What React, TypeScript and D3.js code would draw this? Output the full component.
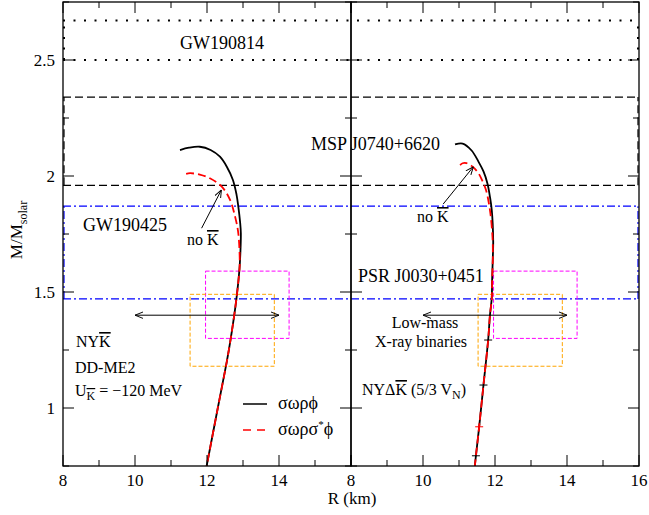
import React from "react";
import * as d3 from "d3";

// ---- data ----
const leftBlackR = [11.25, 11.5, 11.8, 12.1, 12.36, 12.55, 12.72, 12.82, 12.87, 12.92, 12.94, 12.93, 12.9, 12.82, 12.66, 12.55, 12.3, 11.99];
const leftBlackM = [2.112, 2.122, 2.126, 2.112, 2.083, 2.04, 1.983, 1.92, 1.868, 1.8, 1.754, 1.68, 1.595, 1.474, 1.3, 1.2, 1.0, 0.75];
const leftRedR = [11.42, 11.53, 11.8, 12.08, 12.41, 12.64, 12.78, 12.87, 12.91, 12.9, 12.82, 12.66, 12.55, 12.3, 11.99];
const leftRedM = [2.009, 2.012, 2.006, 1.99, 1.954, 1.897, 1.825, 1.753, 1.623, 1.595, 1.474, 1.3, 1.2, 1.0, 0.75];
const rightBlackR = [10.89, 11.1, 11.35, 11.54, 11.68, 11.79, 11.86, 11.91, 11.95, 11.94, 11.92, 11.91, 11.86, 11.81, 11.68, 11.56, 11.47, 11.44];
const rightBlackM = [2.136, 2.14, 2.11, 2.062, 2.02, 1.968, 1.91, 1.853, 1.72, 1.65, 1.55, 1.474, 1.4, 1.293, 1.099, 0.919, 0.794, 0.75];
const rightRedR = [11.03, 11.1, 11.21, 11.38, 11.54, 11.66, 11.75, 11.86, 11.93, 11.94, 11.92, 11.91, 11.86, 11.81, 11.68, 11.56, 11.47, 11.44];
const rightRedM = [2.047, 2.055, 2.055, 2.04, 2.012, 1.975, 1.94, 1.853, 1.738, 1.65, 1.55, 1.474, 1.4, 1.293, 1.099, 0.919, 0.794, 0.75];
const markerR = [11.81, 11.68, 11.47];
const markerM = [1.293, 1.099, 0.794];
const redMarkerR = [11.56];
const redMarkerM = [0.919];

const gw190814 = [2.5, 2.67];
const msp0740 = [1.96, 2.34];
const gw190425 = [1.47, 1.87];
const boxMagentaR = [11.96, 14.28];
const boxMagentaM = [1.3, 1.59];
const boxOrangeR = [11.53, 13.87];
const boxOrangeM = [1.18, 1.49];
const lmxbR = [10, 14];
const lmxbM = 1.4;

const xMajor = [8, 10, 12, 14, 16];
const xMinor = [9, 11, 13, 15];
const yMajor = [1, 1.5, 2, 2.5];
const yMinor = [0.75, 1.25, 1.75, 2.25, 2.75];
const leftXLabels = ["8", "10", "12", "14"];
const rightXLabels = ["8", "10", "12", "14", "16"];
const yLabels = ["1", "1.5", "2", "2.5"];

// ---- layout ----
const W = 649, H = 515;
const L0 = 63, PW = 288, TOP = 2, BOT = 466;
const FONT = "'Liberation Serif', 'Times New Roman', serif";

const y = d3.scaleLinear().domain([0.75, 2.75]).range([BOT, TOP]);
const xL = d3.scaleLinear().domain([8, 16]).range([L0, L0 + PW]);
const xR = d3.scaleLinear().domain([8, 16]).range([L0 + PW, L0 + 2 * PW]);

function line(x: d3.ScaleLinear<number, number>, R: number[], M: number[]) {
  const g = d3.line<number>().x((_, i) => x(R[i])).y((_, i) => y(M[i])).curve(d3.curveCatmullRom.alpha(0.5));
  return g(R.map((_, i) => i)) || "";
}

function Band({ v, dash, color, w }: { v: number[]; dash: string; color: string; w: number }) {
  return (
    <g fill="none" stroke={color} strokeWidth={w} strokeDasharray={dash}>
      <line x1={L0} x2={L0 + 2 * PW} y1={y(v[0])} y2={y(v[0])} />
      <line x1={L0} x2={L0 + 2 * PW} y1={y(v[1])} y2={y(v[1])} />
      <line x1={L0 + 1} x2={L0 + 1} y1={y(v[0])} y2={y(v[1])} />
      <line x1={L0 + 2 * PW - 1} x2={L0 + 2 * PW - 1} y1={y(v[0])} y2={y(v[1])} />
    </g>
  );
}

function Panel({ x, labels }: { x: d3.ScaleLinear<number, number>; labels: string[] }) {
  const [r0, r1] = x.range();
  return (
    <g>
      {xMajor.map((t) => (
        <g key={"M" + t}>
          <line x1={x(t)} x2={x(t)} y1={BOT} y2={BOT - 11} stroke="#000" />
          <line x1={x(t)} x2={x(t)} y1={TOP} y2={TOP + 11} stroke="#000" />
        </g>
      ))}
      {xMinor.map((t) => (
        <g key={"m" + t}>
          <line x1={x(t)} x2={x(t)} y1={BOT} y2={BOT - 6} stroke="#000" />
          <line x1={x(t)} x2={x(t)} y1={TOP} y2={TOP + 6} stroke="#000" />
        </g>
      ))}
      {yMajor.map((t) => (
        <g key={"yM" + t}>
          <line x1={r0} x2={r0 + 11} y1={y(t)} y2={y(t)} stroke="#000" />
          <line x1={r1} x2={r1 - 11} y1={y(t)} y2={y(t)} stroke="#000" />
        </g>
      ))}
      {yMinor.map((t) => (
        <g key={"ym" + t}>
          <line x1={r0} x2={r0 + 6} y1={y(t)} y2={y(t)} stroke="#000" />
          <line x1={r1} x2={r1 - 6} y1={y(t)} y2={y(t)} stroke="#000" />
        </g>
      ))}
      {labels.map((s, i) => (
        <text key={"xl" + s} x={x(xMajor[i])} y={486} textAnchor="middle" fontSize={17} fontFamily={FONT}>{s}</text>
      ))}
      <rect x={r0} y={TOP} width={r1 - r0} height={BOT - TOP} fill="none" stroke="#000" strokeWidth={1.3} />
    </g>
  );
}

export default function App() {
  const clipL = "clipL", clipR = "clipR";
  return (
    <svg width={W} height={H} style={{ position: "absolute", left: 0, top: 0, background: "#fff" }}>
      <defs>
        <clipPath id={clipL}><rect x={L0} y={TOP} width={PW} height={BOT - TOP} /></clipPath>
        <clipPath id={clipR}><rect x={L0 + PW} y={TOP} width={PW} height={BOT - TOP} /></clipPath>
        <marker id="ah" viewBox="0 0 10 10" refX="10" refY="5" markerWidth="8" markerHeight="8" orient="auto-start-reverse" markerUnits="userSpaceOnUse">
          <path d="M0,1 L10,5 L0,9" fill="none" stroke="#000" strokeWidth={1.2} />
        </marker>
      </defs>
      {/* bands */}
      <Band v={gw190814} dash="2,8.5" color="#000" w={2} />
      <Band v={msp0740} dash="8,4" color="#000" w={1.2} />
      <Band v={gw190425} dash="8,3,2,3" color="#0000ff" w={1.2} />

      {/* boxes */}
      {[xL, xR].map((x, k) => (
        <g key={"b" + k} fill="none" strokeWidth={1} strokeDasharray="4,2">
          <rect x={x(boxMagentaR[0])} y={y(boxMagentaM[1])} width={x(boxMagentaR[1]) - x(boxMagentaR[0])} height={y(boxMagentaM[0]) - y(boxMagentaM[1])} stroke="#ff00ff" />
          <rect x={x(boxOrangeR[0])} y={y(boxOrangeM[1])} width={x(boxOrangeR[1]) - x(boxOrangeR[0])} height={y(boxOrangeM[0]) - y(boxOrangeM[1])} stroke="#ffa500" />
          <line x1={x(lmxbR[0])} x2={x(lmxbR[1])} y1={y(lmxbM)} y2={y(lmxbM)} stroke="#000" strokeDasharray="none" markerStart="url(#ah)" markerEnd="url(#ah)" />
        </g>
      ))}

      {/* curves */}
      <g clipPath={`url(#${clipL})`} fill="none">
        <path d={line(xL, leftBlackR, leftBlackM)} stroke="#000" strokeWidth={1.8} />
        <path d={line(xL, leftRedR, leftRedM)} stroke="#ff0000" strokeWidth={1.8} strokeDasharray="8,4" />
      </g>
      <g clipPath={`url(#${clipR})`} fill="none">
        <path d={line(xR, rightBlackR, rightBlackM)} stroke="#000" strokeWidth={1.8} />
        <path d={line(xR, rightRedR, rightRedM)} stroke="#ff0000" strokeWidth={1.8} strokeDasharray="8,4" />
        {markerR.map((r, i) => (
          <line key={"mk" + i} x1={xR(r) - 4} x2={xR(r) + 4} y1={y(markerM[i])} y2={y(markerM[i])} stroke="#000" strokeWidth={1} />
        ))}
        {redMarkerR.map((r, i) => (
          <g key={"rm" + i} stroke="#ff0000" strokeWidth={1}>
            <line x1={xR(r) - 4} x2={xR(r) + 4} y1={y(redMarkerM[i])} y2={y(redMarkerM[i])} />
            <line x1={xR(r)} x2={xR(r)} y1={y(redMarkerM[i]) - 4} y2={y(redMarkerM[i]) + 4} />
          </g>
        ))}
      </g>

      {/* no K arrows */}
      <line x1={xL(11.85)} y1={y(1.775)} x2={xL(12.4)} y2={y(1.94)} stroke="#000" strokeWidth={1} markerEnd="url(#ah)" />
      <line x1={xR(10.56)} y1={y(1.879)} x2={xR(11.4)} y2={y(2.04)} stroke="#000" strokeWidth={1} markerEnd="url(#ah)" />

      <Panel x={xL} labels={leftXLabels} />
      <Panel x={xR} labels={rightXLabels} />

      {/* y tick labels */}
      {yLabels.map((s, i) => (
        <text key={"yl" + s} x={55} y={y(yMajor[i]) + 6} textAnchor="end" fontSize={17} fontFamily={FONT}>{s}</text>
      ))}

      {/* axis titles */}
      <text x={352} y={504} textAnchor="middle" fontSize={17} fontFamily={FONT}>R (km)</text>
      <text transform="translate(22,230) rotate(-90)" textAnchor="middle" fontSize={17} fontFamily={FONT}>
        M/M<tspan dy={5} fontSize={12}>solar</tspan>
      </text>

      {/* annotations */}
      <g fontFamily={FONT} fontSize={18}>
        <text x={180} y={49}>GW190814</text>
        <text x={311} y={150}>MSP J0740+6620</text>
        <text x={83} y={231}>GW190425</text>
        <text x={358} y={282}>PSR J0030+0451</text>
      </g>
      <g fontFamily={FONT} fontSize={16}>
        <text x={187} y={245}>no <tspan textDecoration="overline">K</tspan></text>
        <text x={417} y={222}>no <tspan textDecoration="overline">K</tspan></text>
        <text x={425} y={328} textAnchor="middle">Low-mass</text>
        <text x={421} y={347} textAnchor="middle">X-ray binaries</text>
        <text x={76} y={347}>NY<tspan textDecoration="overline">K</tspan></text>
        <text x={75} y={373}>DD-ME2</text>
        <text x={75} y={396}>U<tspan dy={4} fontSize={12} textDecoration="overline">K</tspan><tspan dy={-4}> = −120 MeV</tspan></text>
        <text x={362} y={395}>NYΔ<tspan textDecoration="overline">K</tspan> (5/3 V<tspan dy={4} fontSize={12}>N</tspan><tspan dy={-4}>)</tspan></text>
      </g>

      {/* legend */}
      <line x1={243} x2={267} y1={404} y2={404} stroke="#000" strokeWidth={1.5} />
      <line x1={243} x2={267} y1={430} y2={430} stroke="#ff0000" strokeWidth={1.5} strokeDasharray="8,6" />
      <g fontFamily={FONT} fontSize={18}>
        <text x={278} y={409}>σωρϕ</text>
        <text x={278} y={435}>σωρσ<tspan dy={-7} fontSize={11}>*</tspan><tspan dy={7}>ϕ</tspan></text>
      </g>
    </svg>
  );
}
